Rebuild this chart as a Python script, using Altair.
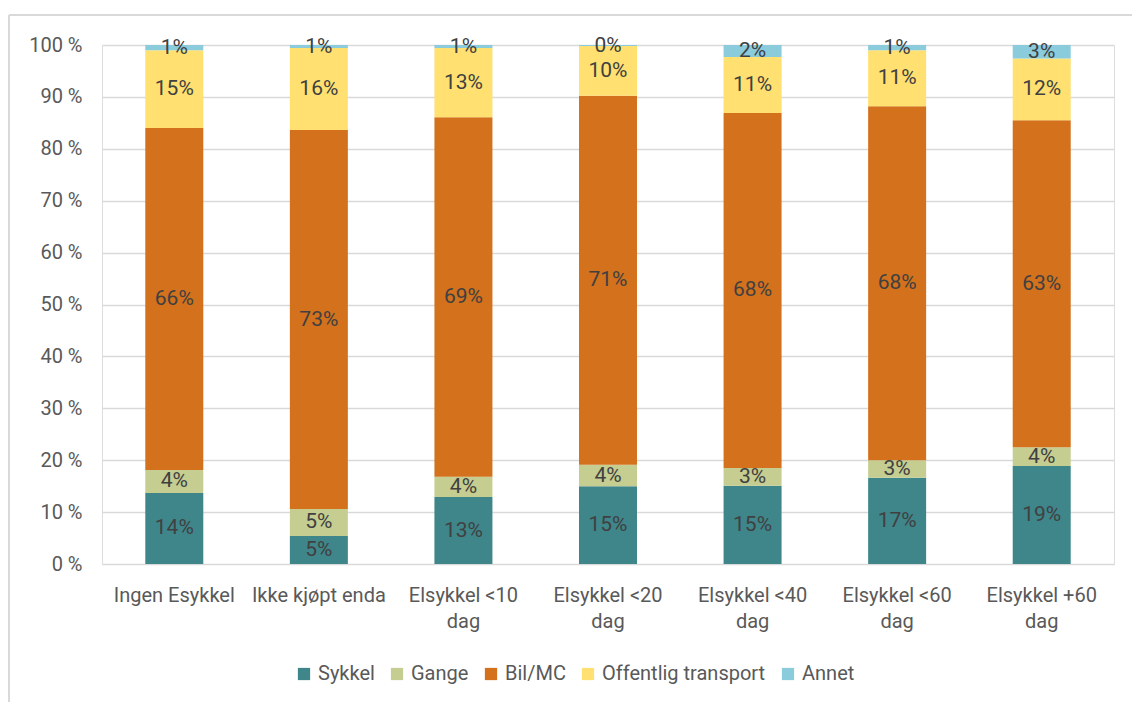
import altair as alt
import pandas as pd

categories = ["Ingen Esykkel", "Ikke kjøpt enda", "Elsykkel <10 dag", "Elsykkel <20 dag",
              "Elsykkel <40 dag", "Elsykkel <60 dag", "Elsykkel +60 dag"]
series = ["Sykkel", "Gange", "Bil/MC", "Offentlig transport", "Annet"]
colors = ["#3F868B", "#C5CD90", "#D3711D", "#FFE070", "#8ACBDC"]

sykkel = [13.7, 5.4, 12.9, 15.0, 15.1, 16.6, 18.9]
gange = [4.4, 5.2, 3.9, 4.1, 3.4, 3.4, 3.6]
bil = [65.9, 73.0, 69.3, 71.1, 68.4, 68.2, 63.0]
offentlig = [15.0, 15.8, 13.3, 9.6, 10.8, 10.8, 11.9]
annet = [1.0, 0.6, 0.6, 0.2, 2.3, 1.0, 2.6]

values = [sykkel, gange, bil, offentlig, annet]
rows = []
for si, (s, vals) in enumerate(zip(series, values)):
    for c, v in zip(categories, vals):
        rows.append({"cat": c, "series": s, "idx": si, "value": v})
df = pd.DataFrame(rows)

FONT = "Roboto"

base = alt.Chart(df)

bars = base.mark_bar(size=58).encode(
    x=alt.X("cat:N", sort=categories, title=None,
            scale=alt.Scale(paddingInner=0.6, paddingOuter=0.3),
            axis=alt.Axis(labelAngle=0, labelFont=FONT, labelFontSize=20, labelColor="#595959",
                          labelPadding=21, ticks=False, domain=False, labelLineHeight=26,
                          labelExpr="indexof(datum.value, ' dag') > 0 ? [replace(datum.value, ' dag', ''), 'dag'] : datum.value")),
    y=alt.Y("value:Q", stack="zero", title=None,
            scale=alt.Scale(domain=[0, 100], nice=False),
            axis=alt.Axis(values=list(range(0, 101, 10)), labelExpr="datum.value + ' %'",
                          labelFont=FONT, labelFontSize=20, labelColor="#595959", labelPadding=20,
                          ticks=False, domain=False, grid=True, gridColor="#D9D9D9", gridWidth=1.5)),
    color=alt.Color("series:N", sort=series,
                    scale=alt.Scale(domain=series, range=colors),
                    legend=alt.Legend(title=None, orient="none", direction="horizontal",
                                      legendX=192, legendY=619, symbolType="square",
                                      symbolSize=150, symbolStrokeWidth=0, labelLimit=400,
                                      labelFont=FONT, labelFontSize=20, labelColor="#595959",
                                      columnPadding=12, labelOffset=4)),
    order=alt.Order("idx:Q", sort="ascending"),
)

labels = base.transform_stack(
    stack="value", groupby=["cat"], as_=["y0", "y1"], sort=[alt.SortField("idx", order="ascending")]
).transform_calculate(
    mid="(datum.y0 + datum.y1) / 2",
    label="round(datum.value) + '%'",
).mark_text(font=FONT, fontSize=21, color="#404040", baseline="middle").encode(
    x=alt.X("cat:N", sort=categories),
    y=alt.Y("mid:Q"),
    text="label:N",
)

border = alt.Chart(pd.DataFrame({"k": [0]})).mark_rule(color="#D9D9D9", strokeWidth=2).encode(
    x=alt.value(-93), x2=alt.value(1040), y=alt.value(-30)
)
border2 = alt.Chart(pd.DataFrame({"k": [0]})).mark_rule(color="#D9D9D9", strokeWidth=2).encode(
    x=alt.value(-93), y=alt.value(-30), y2=alt.value(680)
)

chart = alt.layer(bars, labels, border, border2).properties(
    width=1012, height=519,
    padding={"left": 102, "top": 45, "right": 18, "bottom": 138},
    autosize=alt.AutoSizeParams(type="none"),
).configure_view(stroke=None).configure(background="white")

chart.save("out.html", embed_options={"renderer": "svg", "actions": False})
